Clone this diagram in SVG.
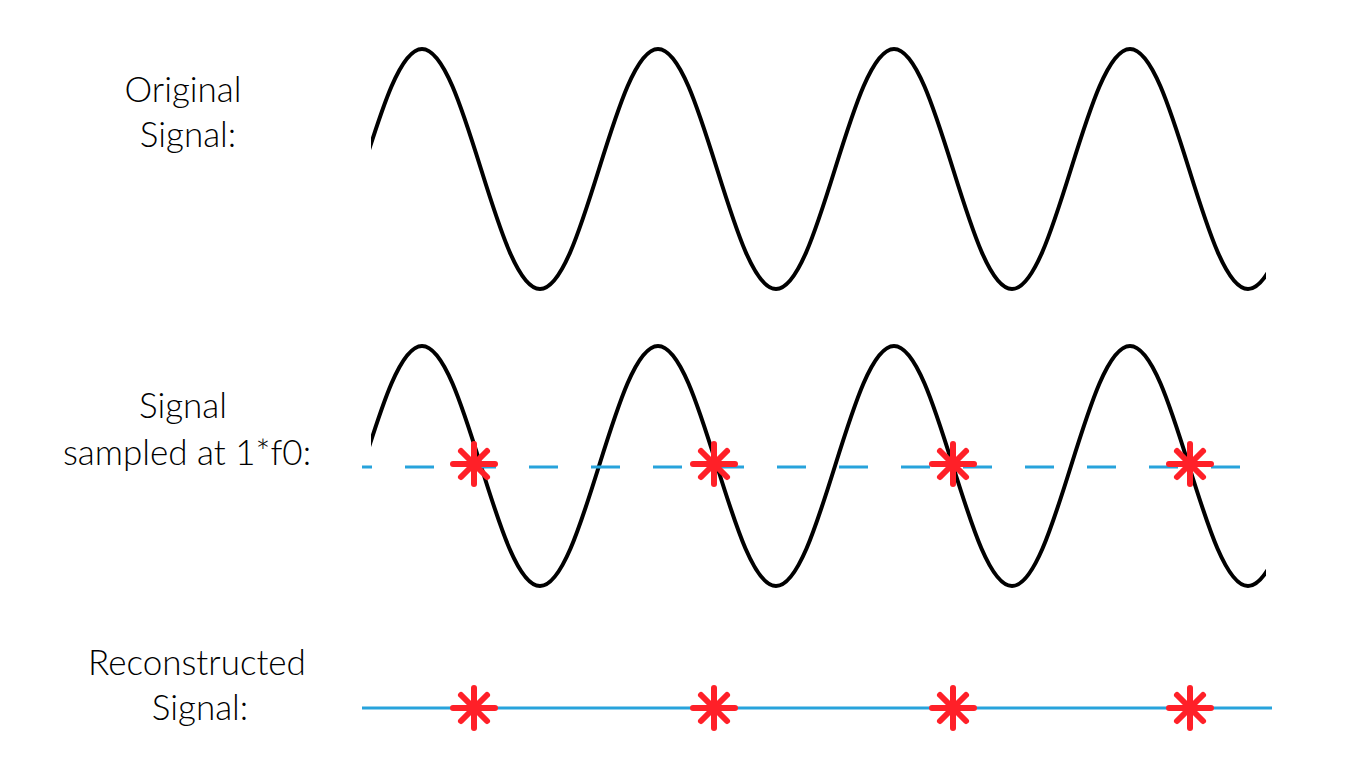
<svg xmlns="http://www.w3.org/2000/svg" width="1368" height="768" viewBox="0 0 1368 768">
<style>
.lbl{font-family:Lato,"Liberation Sans",sans-serif;font-weight:300;font-size:35px;fill:#000;text-anchor:middle}
.wave{fill:none;stroke:#000;stroke-width:4}
.star{stroke:#ff2028;stroke-width:6;stroke-linecap:round}
</style>
<defs>
<clipPath id="c"><rect x="371" y="0" width="895" height="768"/></clipPath>
<g id="st" class="star"><line x1="-21" y1="0" x2="21" y2="0"/><line x1="0" y1="-20" x2="0" y2="20"/><line x1="-13" y1="-13" x2="13" y2="13"/><line x1="-13" y1="13" x2="13" y2="-13"/></g>
<path id="w" d="M304,120 C347,120 379,-120 422,-120 C465,-120 497,120 540,120 C583,120 615,-120 658,-120 C701,-120 733,120 776,120 C819,120 851,-120 894,-120 C937,-120 969,120 1012,120 C1055,120 1087,-120 1130,-120 C1173,-120 1205,120 1248,120 C1291,120 1323,-120 1366,-120"/>
</defs>
<g id="labels">
<text class="lbl" x="183" y="102">Original</text>
<text class="lbl" x="188" y="147">Signal:</text>
<text class="lbl" x="183" y="418">Signal</text>
<text class="lbl" x="187" y="465">sampled at 1*f0:</text>
<text class="lbl" x="197" y="675">Reconstructed</text>
<text class="lbl" x="200" y="720">Signal:</text>
</g>
<g id="connectors">
<g clip-path="url(#c)">
<use href="#w" class="wave" transform="translate(0,169)"/>
<use href="#w" class="wave" transform="translate(0,466)"/>
</g>
<line x1="362" y1="467" x2="1272" y2="467" stroke="#27a3dc" stroke-width="3" stroke-dasharray="0,5 29,28" stroke-dashoffset="-38"/>
<line x1="362" y1="708" x2="1272" y2="708" stroke="#27a3dc" stroke-width="3"/>
</g>
<g id="samples">
<use href="#st" x="474" y="464"/><use href="#st" x="714" y="464"/><use href="#st" x="953" y="464"/><use href="#st" x="1190" y="464"/>
<use href="#st" x="474" y="708"/><use href="#st" x="714" y="708"/><use href="#st" x="953" y="708"/><use href="#st" x="1190" y="708"/>
</g>
</svg>
